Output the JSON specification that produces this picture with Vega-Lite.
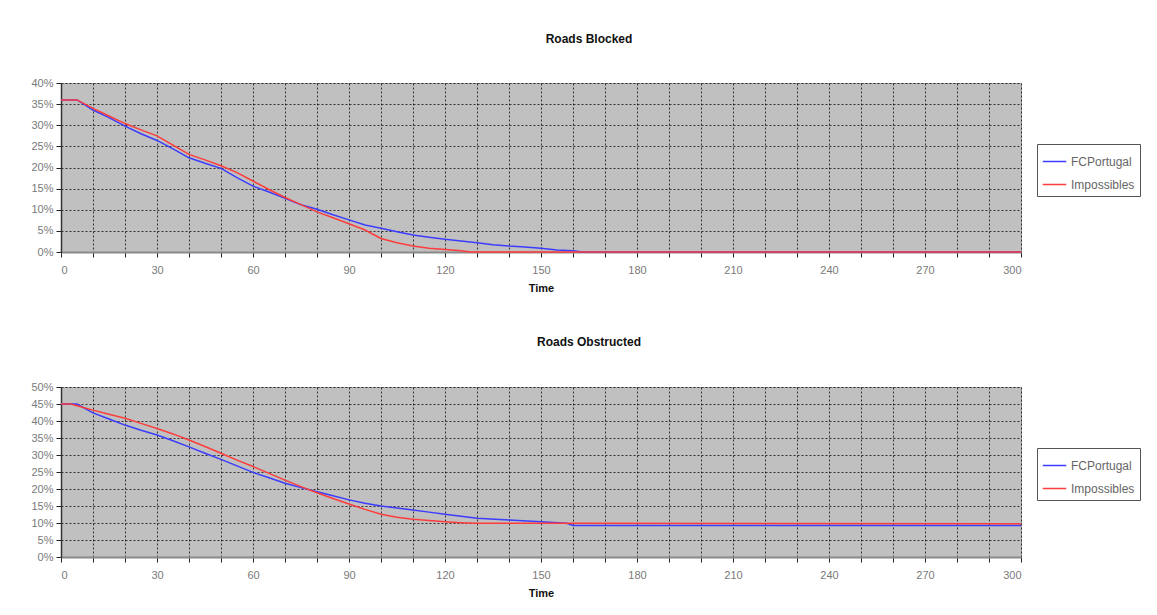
{
  "$schema": "https://vega.github.io/schema/vega-lite/v6.json",
  "background": "white",
  "padding": {"left": 30, "top": 32, "right": 5, "bottom": 5},
  "datasets": {
    "blocked": [
      {"t": 0, "team": "FCPortugal", "v": 36}, {"t": 5, "team": "FCPortugal", "v": 36},
      {"t": 10, "team": "FCPortugal", "v": 33.6}, {"t": 15, "team": "FCPortugal", "v": 31.8},
      {"t": 20, "team": "FCPortugal", "v": 29.8}, {"t": 25, "team": "FCPortugal", "v": 28},
      {"t": 30, "team": "FCPortugal", "v": 26.4}, {"t": 35, "team": "FCPortugal", "v": 24.4},
      {"t": 40, "team": "FCPortugal", "v": 22.3}, {"t": 45, "team": "FCPortugal", "v": 21},
      {"t": 50, "team": "FCPortugal", "v": 19.8}, {"t": 55, "team": "FCPortugal", "v": 17.6},
      {"t": 60, "team": "FCPortugal", "v": 15.6}, {"t": 65, "team": "FCPortugal", "v": 14.2},
      {"t": 70, "team": "FCPortugal", "v": 12.7}, {"t": 75, "team": "FCPortugal", "v": 11.2},
      {"t": 80, "team": "FCPortugal", "v": 10.1}, {"t": 85, "team": "FCPortugal", "v": 8.8},
      {"t": 90, "team": "FCPortugal", "v": 7.6}, {"t": 95, "team": "FCPortugal", "v": 6.4},
      {"t": 100, "team": "FCPortugal", "v": 5.6}, {"t": 105, "team": "FCPortugal", "v": 4.8},
      {"t": 110, "team": "FCPortugal", "v": 4.0}, {"t": 115, "team": "FCPortugal", "v": 3.5},
      {"t": 120, "team": "FCPortugal", "v": 3.0}, {"t": 125, "team": "FCPortugal", "v": 2.6},
      {"t": 130, "team": "FCPortugal", "v": 2.2}, {"t": 135, "team": "FCPortugal", "v": 1.7},
      {"t": 140, "team": "FCPortugal", "v": 1.4}, {"t": 145, "team": "FCPortugal", "v": 1.2},
      {"t": 150, "team": "FCPortugal", "v": 0.9}, {"t": 155, "team": "FCPortugal", "v": 0.5},
      {"t": 160, "team": "FCPortugal", "v": 0.3}, {"t": 163, "team": "FCPortugal", "v": 0},
      {"t": 300, "team": "FCPortugal", "v": 0},
      {"t": 0, "team": "Impossibles", "v": 36}, {"t": 5, "team": "Impossibles", "v": 36},
      {"t": 10, "team": "Impossibles", "v": 34}, {"t": 15, "team": "Impossibles", "v": 32.2},
      {"t": 20, "team": "Impossibles", "v": 30.4}, {"t": 25, "team": "Impossibles", "v": 28.9},
      {"t": 30, "team": "Impossibles", "v": 27.5}, {"t": 35, "team": "Impossibles", "v": 25.3},
      {"t": 40, "team": "Impossibles", "v": 23.1}, {"t": 45, "team": "Impossibles", "v": 21.8},
      {"t": 50, "team": "Impossibles", "v": 20.4}, {"t": 55, "team": "Impossibles", "v": 18.8},
      {"t": 60, "team": "Impossibles", "v": 16.8}, {"t": 65, "team": "Impossibles", "v": 14.8},
      {"t": 70, "team": "Impossibles", "v": 12.9}, {"t": 75, "team": "Impossibles", "v": 11.2},
      {"t": 80, "team": "Impossibles", "v": 9.5}, {"t": 85, "team": "Impossibles", "v": 8.1},
      {"t": 90, "team": "Impossibles", "v": 6.7}, {"t": 95, "team": "Impossibles", "v": 5.2},
      {"t": 100, "team": "Impossibles", "v": 3.2}, {"t": 105, "team": "Impossibles", "v": 2.2},
      {"t": 110, "team": "Impossibles", "v": 1.4}, {"t": 115, "team": "Impossibles", "v": 0.9},
      {"t": 120, "team": "Impossibles", "v": 0.6}, {"t": 125, "team": "Impossibles", "v": 0.3},
      {"t": 128, "team": "Impossibles", "v": 0}, {"t": 300, "team": "Impossibles", "v": 0}
    ],
    "obstructed": [
      {"t": 0, "team": "FCPortugal", "v": 45}, {"t": 5, "team": "FCPortugal", "v": 45},
      {"t": 10, "team": "FCPortugal", "v": 42.4}, {"t": 15, "team": "FCPortugal", "v": 40.6},
      {"t": 20, "team": "FCPortugal", "v": 38.8}, {"t": 25, "team": "FCPortugal", "v": 37.3},
      {"t": 30, "team": "FCPortugal", "v": 35.9}, {"t": 35, "team": "FCPortugal", "v": 34.2},
      {"t": 40, "team": "FCPortugal", "v": 32.4}, {"t": 45, "team": "FCPortugal", "v": 30.5},
      {"t": 50, "team": "FCPortugal", "v": 28.7}, {"t": 55, "team": "FCPortugal", "v": 26.8},
      {"t": 60, "team": "FCPortugal", "v": 24.9}, {"t": 65, "team": "FCPortugal", "v": 23.3},
      {"t": 70, "team": "FCPortugal", "v": 21.7}, {"t": 75, "team": "FCPortugal", "v": 20.4},
      {"t": 80, "team": "FCPortugal", "v": 19.2}, {"t": 85, "team": "FCPortugal", "v": 18},
      {"t": 90, "team": "FCPortugal", "v": 16.8}, {"t": 95, "team": "FCPortugal", "v": 15.8},
      {"t": 100, "team": "FCPortugal", "v": 15}, {"t": 105, "team": "FCPortugal", "v": 14.4},
      {"t": 110, "team": "FCPortugal", "v": 13.8}, {"t": 115, "team": "FCPortugal", "v": 13.2},
      {"t": 120, "team": "FCPortugal", "v": 12.6}, {"t": 125, "team": "FCPortugal", "v": 12},
      {"t": 130, "team": "FCPortugal", "v": 11.4}, {"t": 140, "team": "FCPortugal", "v": 10.9},
      {"t": 150, "team": "FCPortugal", "v": 10.4}, {"t": 158, "team": "FCPortugal", "v": 9.9},
      {"t": 160, "team": "FCPortugal", "v": 9.3}, {"t": 300, "team": "FCPortugal", "v": 9.3},
      {"t": 0, "team": "Impossibles", "v": 45}, {"t": 3, "team": "Impossibles", "v": 45},
      {"t": 5, "team": "Impossibles", "v": 44.5},
      {"t": 10, "team": "Impossibles", "v": 43.2}, {"t": 15, "team": "Impossibles", "v": 42},
      {"t": 20, "team": "Impossibles", "v": 40.8}, {"t": 25, "team": "Impossibles", "v": 39.3},
      {"t": 30, "team": "Impossibles", "v": 37.8}, {"t": 35, "team": "Impossibles", "v": 36.2},
      {"t": 40, "team": "Impossibles", "v": 34.4}, {"t": 45, "team": "Impossibles", "v": 32.5},
      {"t": 50, "team": "Impossibles", "v": 30.5}, {"t": 55, "team": "Impossibles", "v": 28.5},
      {"t": 60, "team": "Impossibles", "v": 26.6}, {"t": 65, "team": "Impossibles", "v": 24.6},
      {"t": 70, "team": "Impossibles", "v": 22.6}, {"t": 75, "team": "Impossibles", "v": 20.7},
      {"t": 80, "team": "Impossibles", "v": 18.9}, {"t": 85, "team": "Impossibles", "v": 17.2},
      {"t": 90, "team": "Impossibles", "v": 15.6}, {"t": 95, "team": "Impossibles", "v": 14},
      {"t": 100, "team": "Impossibles", "v": 12.6}, {"t": 105, "team": "Impossibles", "v": 11.7},
      {"t": 110, "team": "Impossibles", "v": 11.1}, {"t": 115, "team": "Impossibles", "v": 10.7},
      {"t": 120, "team": "Impossibles", "v": 10.4}, {"t": 125, "team": "Impossibles", "v": 10.1},
      {"t": 130, "team": "Impossibles", "v": 9.9}, {"t": 160, "team": "Impossibles", "v": 9.9},
      {"t": 300, "team": "Impossibles", "v": 9.8}
    ]
  },
  "config": {
    "font": "Liberation Sans",
    "view": {"fill": "#c0c0c0", "stroke": "#a0a0a0", "strokeWidth": 1},
    "axis": {
      "labelFont": "Liberation Sans",
      "labelFontSize": 11,
      "labelColor": "#7a7a7a",
      "titleFont": "Liberation Sans",
      "titleFontSize": 11,
      "titleFontWeight": "bold",
      "titleColor": "#111111",
      "gridColor": "#222222",
      "gridDash": [2, 2],
      "gridWidth": 1,
      "gridOpacity": 0.9,
      "tickColor": "#222222",
      "tickSize": 5,
      "domainColor": "#555555"
    },
    "title": {"font": "Liberation Sans", "fontSize": 12, "fontWeight": "bold", "color": "#111111", "dx": 48},
    "legend": {
      "orient": "none",
      "strokeColor": "#555555",
      "fillColor": "white",
      "padding": 5,
      "symbolType": "stroke",
      "symbolSize": 550,
      "symbolStrokeWidth": 1.5,
      "labelFont": "Liberation Sans",
      "labelFontSize": 12,
      "labelColor": "#666666",
      "rowPadding": 4,
      "labelOffset": 4
    },
    "line": {"strokeWidth": 1.5}
  },
  "vconcat": [
    {
      "title": {"text": "Roads Blocked", "offset": 31},
      "width": 960,
      "height": 169,
      "data": {"name": "blocked"},
      "mark": {"type": "line", "interpolate": "linear"},
      "encoding": {
        "x": {
          "field": "t", "type": "quantitative", "title": "Time",
          "scale": {"domain": [0, 300], "nice": false},
          "axis": {
            "values": [0,10,20,30,40,50,60,70,80,90,100,110,120,130,140,150,160,170,180,190,200,210,220,230,240,250,260,270,280,290,300],
            "labelExpr": "datum.value % 30 === 0 ? datum.label : ''",
            "labelPadding": 7, "titlePadding": 7,
            "domainColor": "#8a8a8a", "domainWidth": 2
          }
        },
        "y": {
          "field": "v", "type": "quantitative", "title": null,
          "scale": {"domain": [0, 40], "nice": false},
          "axis": {
            "values": [0,5,10,15,20,25,30,35,40],
            "labelExpr": "datum.value + '%'",
            "labelPadding": 3, "domainColor": "#333333", "domainWidth": 1.5
          }
        },
        "color": {
          "field": "team", "type": "nominal",
          "scale": {"domain": ["FCPortugal", "Impossibles"], "range": ["#3c3cff", "#ff3c3c"]},
          "legend": {"title": null, "legendX": 976, "legendY": 61}
        },
        "order": {"field": "t", "type": "quantitative"}
      }
    },
    {
      "title": {"text": "Roads Obstructed", "offset": 32},
      "width": 960,
      "height": 170,
      "data": {"name": "obstructed"},
      "mark": {"type": "line", "interpolate": "linear"},
      "encoding": {
        "x": {
          "field": "t", "type": "quantitative", "title": "Time",
          "scale": {"domain": [0, 300], "nice": false},
          "axis": {
            "values": [0,10,20,30,40,50,60,70,80,90,100,110,120,130,140,150,160,170,180,190,200,210,220,230,240,250,260,270,280,290,300],
            "labelExpr": "datum.value % 30 === 0 ? datum.label : ''",
            "labelPadding": 7, "titlePadding": 7,
            "domainColor": "#8a8a8a", "domainWidth": 2
          }
        },
        "y": {
          "field": "v", "type": "quantitative", "title": null,
          "scale": {"domain": [0, 50], "nice": false},
          "axis": {
            "values": [0,5,10,15,20,25,30,35,40,45,50],
            "labelExpr": "datum.value + '%'",
            "labelPadding": 3, "domainColor": "#333333", "domainWidth": 1.5
          }
        },
        "color": {
          "field": "team", "type": "nominal",
          "scale": {"domain": ["FCPortugal", "Impossibles"], "range": ["#3c3cff", "#ff3c3c"]},
          "legend": {"title": null, "legendX": 976, "legendY": 61}
        },
        "order": {"field": "t", "type": "quantitative"}
      }
    }
  ],
  "spacing": 41,
  "resolve": {"scale": {"color": "independent"}, "legend": {"color": "independent"}}
}
